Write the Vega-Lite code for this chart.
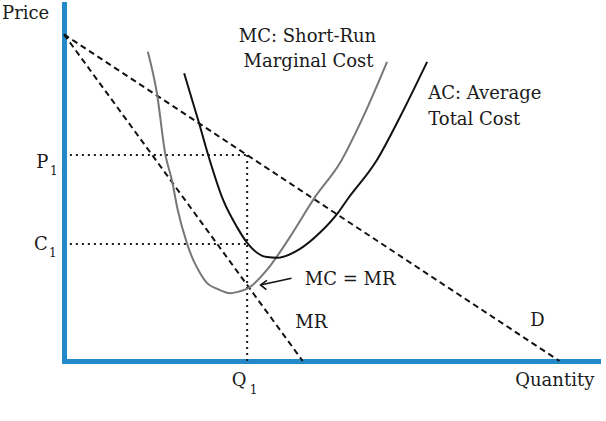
{
  "$schema": "https://vega.github.io/schema/vega-lite/v6.json",
  "width": 534,
  "height": 357,
  "autosize": "none",
  "padding": {"left": 64, "top": 4, "right": 8, "bottom": 60},
  "background": "#ffffff",
  "view": {"stroke": null},
  "config": {
    "text": {"font": "DejaVu Serif", "color": "#1a1a1a"}
  },
  "datasets": {
    "curves": [
      {"series": "P1 guide", "i": 1, "q": 1.1, "p": 57.7},
      {"series": "P1 guide", "i": 2, "q": 34.3, "p": 57.7},
      {"series": "C1 guide", "i": 1, "q": 1.1, "p": 32.8},
      {"series": "C1 guide", "i": 2, "q": 34.3, "p": 32.8},
      {"series": "Q1 guide", "i": 1, "q": 34.3, "p": 57.7},
      {"series": "Q1 guide", "i": 2, "q": 34.3, "p": 0},
      {"series": "D", "i": 1, "q": 0, "p": 91.5},
      {"series": "D", "i": 2, "q": 92.8, "p": 0},
      {"series": "MR", "i": 1, "q": 0, "p": 91.5},
      {"series": "MR", "i": 2, "q": 44.7, "p": 0},
      {"series": "MC", "i": 1, "q": 15.7, "p": 86.6},
      {"series": "MC", "i": 2, "q": 17.4, "p": 75.0},
      {"series": "MC", "i": 3, "q": 19.0, "p": 57.7},
      {"series": "MC", "i": 4, "q": 20.2, "p": 50.7},
      {"series": "MC", "i": 5, "q": 21.3, "p": 42.3},
      {"series": "MC", "i": 6, "q": 23.0, "p": 33.1},
      {"series": "MC", "i": 7, "q": 24.2, "p": 28.3},
      {"series": "MC", "i": 8, "q": 25.5, "p": 24.6},
      {"series": "MC", "i": 9, "q": 26.8, "p": 21.8},
      {"series": "MC", "i": 10, "q": 28.7, "p": 20.2},
      {"series": "MC", "i": 11, "q": 31.1, "p": 19.0},
      {"series": "MC", "i": 12, "q": 32.4, "p": 19.3},
      {"series": "MC", "i": 13, "q": 34.8, "p": 20.7},
      {"series": "MC", "i": 14, "q": 38.0, "p": 25.5},
      {"series": "MC", "i": 15, "q": 42.3, "p": 34.7},
      {"series": "MC", "i": 16, "q": 47.0, "p": 45.9},
      {"series": "MC", "i": 17, "q": 51.7, "p": 55.5},
      {"series": "MC", "i": 18, "q": 56.0, "p": 68.3},
      {"series": "MC", "i": 19, "q": 60.5, "p": 83.8},
      {"series": "AC", "i": 1, "q": 22.5, "p": 80.6},
      {"series": "AC", "i": 2, "q": 25.3, "p": 66.6},
      {"series": "AC", "i": 3, "q": 27.0, "p": 57.7},
      {"series": "AC", "i": 4, "q": 29.8, "p": 45.1},
      {"series": "AC", "i": 5, "q": 32.4, "p": 37.5},
      {"series": "AC", "i": 6, "q": 34.3, "p": 33.1},
      {"series": "AC", "i": 7, "q": 38.0, "p": 29.1},
      {"series": "AC", "i": 8, "q": 39.9, "p": 28.9},
      {"series": "AC", "i": 9, "q": 44.2, "p": 31.4},
      {"series": "AC", "i": 10, "q": 47.9, "p": 35.9},
      {"series": "AC", "i": 11, "q": 51.3, "p": 41.5},
      {"series": "AC", "i": 12, "q": 53.0, "p": 45.1},
      {"series": "AC", "i": 13, "q": 58.6, "p": 56.3},
      {"series": "AC", "i": 14, "q": 62.9, "p": 68.3},
      {"series": "AC", "i": 15, "q": 68.0, "p": 83.8},
      {"series": "arrow shaft", "i": 1, "q": 42.6, "p": 23.2},
      {"series": "arrow shaft", "i": 2, "q": 36.8, "p": 21.3},
      {"series": "arrow head", "i": 1, "q": 38.0, "p": 22.6},
      {"series": "arrow head", "i": 2, "q": 36.8, "p": 21.3},
      {"series": "arrow head", "i": 3, "q": 37.9, "p": 20.0}
    ],
    "labels": [
      {"role": "main", "text": "Price", "q": -11.6, "p": 95.8},
      {"role": "main", "text": "P", "q": -5.2, "p": 54.1},
      {"role": "main", "text": "C", "q": -5.6, "p": 31.1},
      {"role": "main", "text": "Q", "q": 31.4, "p": -7.0},
      {"role": "main", "text": "Quantity", "q": 84.5, "p": -7.0},
      {"role": "main", "text": "D", "q": 87.3, "p": 9.8},
      {"role": "main", "text": "MR", "q": 43.3, "p": 9.2},
      {"role": "main", "text": "MC = MR", "q": 45.1, "p": 21.3},
      {"role": "main", "text": "AC: Average", "q": 68.2, "p": 73.4},
      {"role": "main", "text": "Total Cost", "q": 68.2, "p": 66.1},
      {"role": "centered", "text": "MC: Short-Run", "q": 45.6, "p": 89.4},
      {"role": "centered", "text": "Marginal Cost", "q": 45.8, "p": 82.4},
      {"role": "sub", "text": "1", "q": -2.6, "p": 52.0},
      {"role": "sub", "text": "1", "q": -2.8, "p": 29.0},
      {"role": "sub", "text": "1", "q": 34.8, "p": -9.3}
    ]
  },
  "encoding": {
    "x": {
      "field": "q",
      "type": "quantitative",
      "scale": {"domain": [0, 100], "nice": false, "zero": false},
      "axis": {
        "title": null,
        "labels": false,
        "ticks": false,
        "grid": false,
        "domainColor": "#2389c8",
        "domainWidth": 5,
        "domainCap": "square"
      }
    },
    "y": {
      "field": "p",
      "type": "quantitative",
      "scale": {"domain": [0, 100], "nice": false, "zero": false},
      "axis": {
        "title": null,
        "labels": false,
        "ticks": false,
        "grid": false,
        "domainColor": "#2389c8",
        "domainWidth": 5,
        "domainCap": "square"
      }
    }
  },
  "layer": [
    {
      "data": {"name": "curves"},
      "transform": [{"filter": "indexof(datum.series, 'guide') >= 0"}],
      "mark": {"type": "line", "color": "#1a1a1a", "strokeWidth": 2, "strokeDash": [2, 4]},
      "encoding": {"detail": {"field": "series"}, "order": {"field": "i"}}
    },
    {
      "data": {"name": "curves"},
      "transform": [{"filter": "datum.series == 'D' || datum.series == 'MR'"}],
      "mark": {"type": "line", "color": "#111111", "strokeWidth": 2, "strokeDash": [6, 4]},
      "encoding": {"detail": {"field": "series"}, "order": {"field": "i"}}
    },
    {
      "data": {"name": "curves"},
      "transform": [{"filter": "datum.series == 'MC'"}],
      "mark": {"type": "line", "color": "#777777", "strokeWidth": 2, "interpolate": "monotone"},
      "encoding": {"order": {"field": "i"}}
    },
    {
      "data": {"name": "curves"},
      "transform": [{"filter": "datum.series == 'AC'"}],
      "mark": {"type": "line", "color": "#111111", "strokeWidth": 2, "interpolate": "monotone"},
      "encoding": {"order": {"field": "i"}}
    },
    {
      "data": {"name": "curves"},
      "transform": [{"filter": "indexof(datum.series, 'arrow') == 0"}],
      "mark": {"type": "line", "color": "#111111", "strokeWidth": 1.5},
      "encoding": {"detail": {"field": "series"}, "order": {"field": "i"}}
    },
    {
      "data": {"name": "labels"},
      "transform": [{"filter": "datum.role == 'main'"}],
      "mark": {"type": "text", "fontSize": 18, "align": "left", "baseline": "alphabetic"},
      "encoding": {"text": {"field": "text"}}
    },
    {
      "data": {"name": "labels"},
      "transform": [{"filter": "datum.role == 'centered'"}],
      "mark": {"type": "text", "fontSize": 18, "align": "center", "baseline": "alphabetic"},
      "encoding": {"text": {"field": "text"}}
    },
    {
      "data": {"name": "labels"},
      "transform": [{"filter": "datum.role == 'sub'"}],
      "mark": {"type": "text", "fontSize": 12, "align": "left", "baseline": "alphabetic"},
      "encoding": {"text": {"field": "text"}}
    }
  ]
}
